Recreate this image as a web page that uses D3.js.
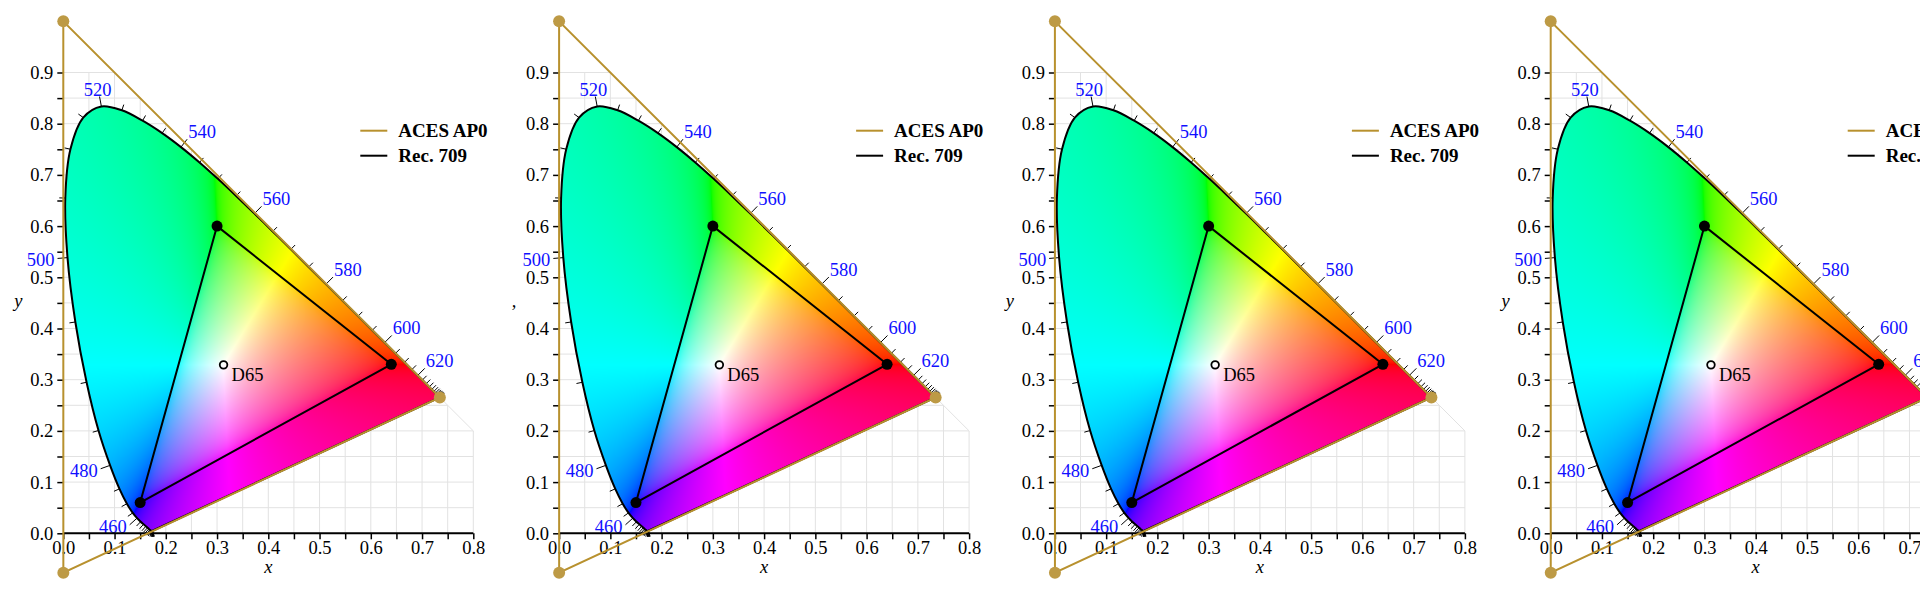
<!DOCTYPE html>
<html>
<head>
<meta charset="utf-8">
<script src="https://cdn.jsdelivr.net/npm/d3@7"></script>
<style>
  body { margin: 0; background: #fff; }
  svg { display: block; }
</style>
</head>
<body>
<svg id="chart" width="1920" height="600"></svg>
<script>
/*global d3*/
// CIE 1931 spectral locus, 5 nm steps
var wavelengths = [380, 385, 390, 395, 400, 405, 410, 415, 420, 425, 430, 435, 440, 445, 450, 455,
   460, 465, 470, 475, 480, 485, 490, 495, 500, 505, 510, 515, 520, 525, 530, 535, 540, 545, 550,
   555, 560, 565, 570, 575, 580, 585, 590, 595, 600, 605, 610, 615, 620, 625, 630, 635, 640, 645,
   650, 655, 660, 665, 670, 675, 680, 685, 690, 695, 700];
var locusX = [0.1741, 0.1740, 0.1738, 0.1736, 0.1733, 0.1730, 0.1726, 0.1721, 0.1714, 0.1703,
   0.1689, 0.1669, 0.1644, 0.1611, 0.1566, 0.1510, 0.1440, 0.1355, 0.1241, 0.1096, 0.0913, 0.0687,
   0.0454, 0.0235, 0.0082, 0.0039, 0.0139, 0.0389, 0.0743, 0.1142, 0.1547, 0.1929, 0.2296, 0.2658,
   0.3016, 0.3373, 0.3731, 0.4087, 0.4441, 0.4788, 0.5125, 0.5448, 0.5752, 0.6029, 0.6270, 0.6482,
   0.6658, 0.6801, 0.6915, 0.7006, 0.7079, 0.7140, 0.7190, 0.7230, 0.7260, 0.7283, 0.7300, 0.7311,
   0.7320, 0.7327, 0.7334, 0.7340, 0.7344, 0.7346, 0.7347];
var locusY = [0.0050, 0.0050, 0.0049, 0.0049, 0.0048, 0.0048, 0.0048, 0.0048, 0.0051, 0.0058,
   0.0069, 0.0086, 0.0109, 0.0138, 0.0177, 0.0227, 0.0297, 0.0399, 0.0578, 0.0868, 0.1327, 0.2007,
   0.2950, 0.4127, 0.5384, 0.6548, 0.7502, 0.8120, 0.8338, 0.8262, 0.8059, 0.7816, 0.7543, 0.7243,
   0.6923, 0.6589, 0.6245, 0.5896, 0.5547, 0.5202, 0.4866, 0.4544, 0.4242, 0.3965, 0.3725, 0.3514,
   0.3340, 0.3197, 0.3083, 0.2993, 0.2920, 0.2859, 0.2809, 0.2770, 0.2740, 0.2717, 0.2700, 0.2689,
   0.2680, 0.2673, 0.2666, 0.2660, 0.2656, 0.2654, 0.2653];
var labelledWavelengths = [460, 480, 500, 520, 540, 560, 580, 600, 620];

var ap0X = [0.7347, 0.0000, 0.0001],
   ap0Y = [0.2653, 1.0000, -0.0770];
var rec709X = [0.64, 0.30, 0.15],
   rec709Y = [0.33, 0.60, 0.06];
var whitePointX = 0.3127,
   whitePointY = 0.3290,
   whitePointName = "D65";

var xTickValues = [0, 0.05, 0.1, 0.15, 0.2, 0.25, 0.3, 0.35, 0.4, 0.45, 0.5, 0.55, 0.6, 0.65, 0.7, 0.75, 0.8];
var yTickValues = [0, 0.05, 0.1, 0.15, 0.2, 0.25, 0.3, 0.35, 0.4, 0.45, 0.5, 0.55, 0.6, 0.65, 0.7, 0.75, 0.8, 0.85, 0.9];
var xTickLabels = ["0.0", "0.1", "0.2", "0.3", "0.4", "0.5", "0.6", "0.7", "0.8"];
var yTickLabels = ["0.0", "0.1", "0.2", "0.3", "0.4", "0.5", "0.6", "0.7", "0.8", "0.9"];
var legendNames = ["ACES AP0", "Rec. 709"];
var panelYTitles = ["y", ",", "y", "y"];

var gold = "#b8912e",
   goldDot = "#bd9a45",
   serif = "'Liberation Serif', 'Times New Roman', serif";

var svg = d3.select("#chart"),
   panelLeft = 63.3,
   panelStep = 495.8;

// panel-local scales, same for all four copies
var x = d3.scaleLinear().domain([0, 0.8]).range([0, 410]),
   y = d3.scaleLinear().domain([0, 1]).range([533.3, 21.3]);

var locus = wavelengths.map(function (w, i) {
   return {w: w, x: locusX[i], y: locusY[i]};
});

var locusPath = d3.line()
   .x(function (d) { return x(d.x); })
   .y(function (d) { return y(d.y); })
   .curve(d3.curveCatmullRom)(locus) + "Z";

// xy chromaticity -> display colour, out-of-gamut colours pushed to the sRGB edge
function chromaColour(cx, cy) {
   var X = cx / cy, Y = 1, Z = (1 - cx - cy) / cy,
      rgb = [
         3.2406 * X - 1.5372 * Y - 0.4986 * Z,
         -0.9689 * X + 1.8758 * Y + 0.0415 * Z,
         0.0557 * X - 0.2040 * Y + 1.0570 * Z
      ],
      lo = Math.min(rgb[0], rgb[1], rgb[2]),
      hi;
   if (lo < 0) {
      rgb = rgb.map(function (c) { return c - lo; });
   }
   hi = Math.max(rgb[0], rgb[1], rgb[2]);
   return rgb.map(function (c) {
      c = c / hi;
      c = c <= 0.0031308 ? 12.92 * c : 1.055 * Math.pow(c, 1 / 2.4) - 0.055;
      return Math.round(Math.max(0, Math.min(1, c)) * 255);
   });
}

function gamutImage() {
   var top = 0.86, right = 0.75,
      w = Math.ceil(x(right) - x(0)),
      h = Math.ceil(y(0) - y(top)),
      canvas = document.createElement("canvas"),
      ctx, img, i, j, k, cx, cy, col;
   canvas.width = w;
   canvas.height = h;
   ctx = canvas.getContext("2d");
   img = ctx.createImageData(w, h);
   for (j = 0; j < h; j++) {
      cy = Math.max(0.002, y.invert(y(top) + j + 0.5));
      for (i = 0; i < w; i++) {
         cx = x.invert(i + 0.5);
         col = chromaColour(cx, cy);
         k = (j * w + i) * 4;
         img.data[k] = col[0];
         img.data[k + 1] = col[1];
         img.data[k + 2] = col[2];
         img.data[k + 3] = 255;
      }
   }
   ctx.putImageData(img, 0, 0);
   return {href: canvas.toDataURL(), x: x(0), y: y(top), w: w, h: h};
}

var gamut = gamutImage();

svg.append("defs").append("clipPath")
   .attr("id", "locusClip")
   .append("path")
   .attr("d", locusPath);

function drawPanel(g, yTitle) {
   // grid, limited to x + y <= 1
   var grid = g.append("g").attr("stroke", "#e2e2e2").attr("stroke-width", 1);
   grid.selectAll(".gv").data(xTickValues).enter().append("line")
      .attr("x1", function (d) { return x(d); })
      .attr("x2", function (d) { return x(d); })
      .attr("y1", y(0))
      .attr("y2", function (d) { return y(Math.min(0.9, 1 - d)); });
   grid.selectAll(".gh").data(yTickValues).enter().append("line")
      .attr("y1", function (d) { return y(d); })
      .attr("y2", function (d) { return y(d); })
      .attr("x1", x(0))
      .attr("x2", function (d) { return x(Math.min(0.8, 1 - d)); });
   grid.append("line")
      .attr("x1", x(0.1)).attr("y1", y(0.9))
      .attr("x2", x(0.8)).attr("y2", y(0.2));

   // colour fill
   g.append("image")
      .attr("href", gamut.href)
      .attr("x", gamut.x).attr("y", gamut.y)
      .attr("width", gamut.w).attr("height", gamut.h)
      .attr("preserveAspectRatio", "none")
      .attr("clip-path", "url(#locusClip)");

   g.append("path")
      .attr("d", locusPath)
      .attr("fill", "none")
      .attr("stroke", "#000")
      .attr("stroke-width", 2)
      .attr("stroke-linejoin", "round");

   // wavelength ticks along the locus
   var ticks = locus.map(function (d, i) {
      var a = locus[Math.max(0, i - 1)], b = locus[Math.min(locus.length - 1, i + 1)],
         tx = x(b.x) - x(a.x), ty = y(b.y) - y(a.y),
         len = Math.sqrt(tx * tx + ty * ty) || 1,
         nx = ty / len, ny = -tx / len,
         labelled = labelledWavelengths.indexOf(d.w) >= 0,
         size = labelled ? 10 : 6;
      return {w: d.w, px: x(d.x), py: y(d.y), nx: nx, ny: ny, labelled: labelled,
         ex: x(d.x) + nx * size, ey: y(d.y) + ny * size};
   });
   g.append("g").selectAll("line").data(ticks).enter().append("line")
      .attr("x1", function (d) { return d.px; })
      .attr("y1", function (d) { return d.py; })
      .attr("x2", function (d) { return d.ex; })
      .attr("y2", function (d) { return d.ey; })
      .attr("stroke", "#000")
      .attr("stroke-width", 1);

   g.append("g").selectAll("text").data(ticks.filter(function (d) { return d.labelled; }))
      .enter().append("text")
      .attr("font-family", serif)
      .attr("font-size", 18.5)
      .attr("fill", "#1010ff")
      .attr("text-anchor", function (d) {
         if (d.nx < -0.5) { return "end"; }
         return Math.abs(d.nx) < 0.4 ? "middle" : "start";
      })
      .attr("x", function (d) {
         if (d.nx < -0.5) { return d.ex - 3; }
         return Math.abs(d.nx) < 0.4 ? d.ex - 2 : d.ex + 1;
      })
      .attr("y", function (d) {
         return d.nx < -0.5 ? d.ey + 8 : d.ey - 1;
      })
      .text(function (d) { return d.w; });

   // axes
   var xAxis = g.append("g")
      .attr("transform", "translate(0," + y(0) + ")")
      .call(d3.axisBottom(x).tickValues(xTickValues).tickSize(6).tickPadding(2)
         .tickFormat(function (d, i) { return i % 2 ? "" : xTickLabels[i / 2]; }));
   var yAxis = g.append("g")
      .call(d3.axisLeft(y).tickValues(yTickValues).tickSize(6).tickPadding(4)
         .tickFormat(function (d, i) { return i % 2 ? "" : yTickLabels[i / 2]; }));
   [xAxis, yAxis].forEach(function (ax) {
      ax.selectAll("text").attr("font-family", serif).attr("font-size", 18.5).attr("fill", "#000");
      ax.selectAll(".tick line").attr("stroke", "#000").attr("stroke-width", 1.5);
   });
   xAxis.select(".domain").attr("stroke", "#000").attr("stroke-width", 2).attr("d", "M0,0H" + x(0.8));
   yAxis.select(".domain").remove();

   g.append("text")
      .attr("x", x(0.4)).attr("y", 573)
      .attr("text-anchor", "middle")
      .attr("font-family", serif).attr("font-style", "italic").attr("font-size", 18.5)
      .text("x");
   g.append("text")
      .attr("x", -45).attr("y", 307)
      .attr("text-anchor", "middle")
      .attr("font-family", serif).attr("font-style", "italic").attr("font-size", 18.5)
      .text(yTitle);

   // Rec. 709 triangle
   var rec = rec709X.map(function (v, i) { return [x(v), y(rec709Y[i])]; });
   g.append("path")
      .attr("d", d3.line()(rec) + "Z")
      .attr("fill", "none").attr("stroke", "#000").attr("stroke-width", 2)
      .attr("stroke-linejoin", "round");
   g.append("g").selectAll("circle").data(rec).enter().append("circle")
      .attr("cx", function (d) { return d[0]; })
      .attr("cy", function (d) { return d[1]; })
      .attr("r", 5.5).attr("fill", "#000");

   // white point
   g.append("circle")
      .attr("cx", x(whitePointX)).attr("cy", y(whitePointY)).attr("r", 3.8)
      .attr("fill", "none").attr("stroke", "#000").attr("stroke-width", 1.8);
   g.append("text")
      .attr("x", x(whitePointX) + 8).attr("y", y(whitePointY) + 16.5)
      .attr("font-family", serif).attr("font-size", 18.5).attr("fill", "#000")
      .text(whitePointName);

   // ACES AP0 triangle
   var ap0 = ap0X.map(function (v, i) { return [x(v), y(ap0Y[i])]; });
   g.append("path")
      .attr("d", d3.line()(ap0) + "Z")
      .attr("fill", "none").attr("stroke", gold).attr("stroke-width", 2);
   g.append("g").selectAll("circle").data(ap0).enter().append("circle")
      .attr("cx", function (d) { return d[0]; })
      .attr("cy", function (d) { return d[1]; })
      .attr("r", 6).attr("fill", goldDot);

   // legend
   var legend = g.append("g").attr("transform", "translate(297,130.7)");
   legend.selectAll("line").data(legendNames).enter().append("line")
      .attr("x1", 0).attr("x2", 27)
      .attr("y1", function (d, i) { return i * 25; })
      .attr("y2", function (d, i) { return i * 25; })
      .attr("stroke", function (d, i) { return i ? "#000" : gold; })
      .attr("stroke-width", 2);
   legend.selectAll("text").data(legendNames).enter().append("text")
      .attr("x", 38)
      .attr("y", function (d, i) { return i * 25 + 6.5; })
      .attr("font-family", serif).attr("font-weight", "bold").attr("font-size", 19)
      .attr("fill", "#000")
      .text(function (d) { return d; });
}

panelYTitles.forEach(function (t, i) {
   var g = svg.append("g").attr("transform", "translate(" + (panelLeft + i * panelStep) + ",0)");
   drawPanel(g, t);
});
</script>
</body>
</html>
